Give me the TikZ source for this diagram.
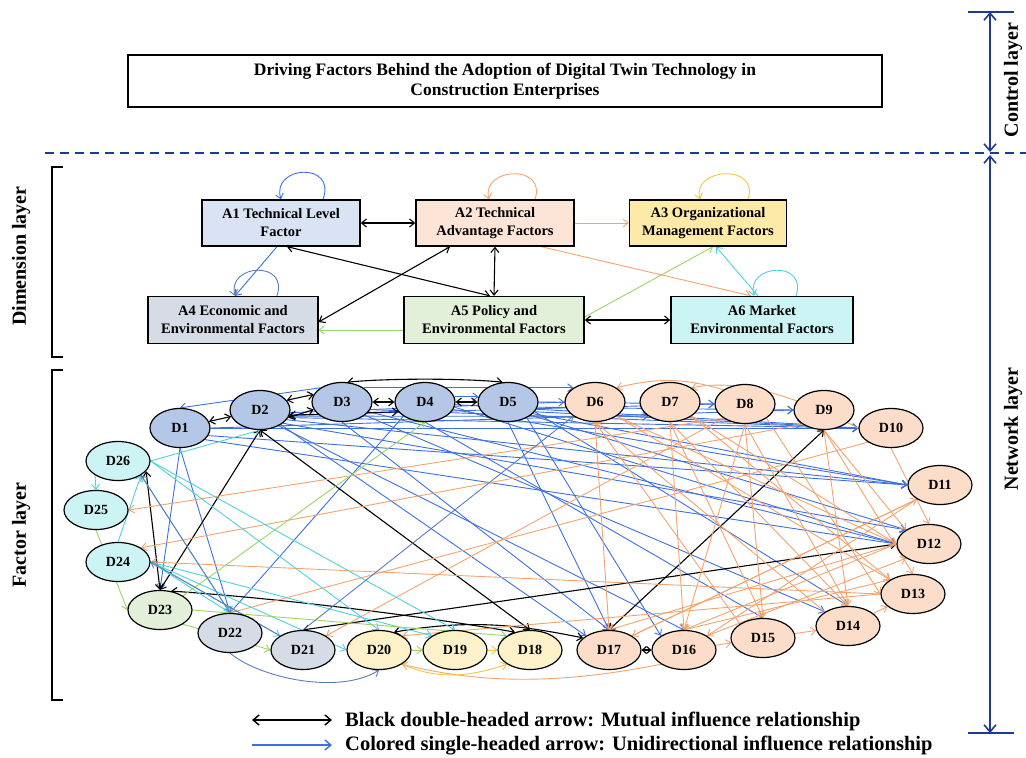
\documentclass[tikz,border=0pt]{standalone}
\usepackage{fontspec}
\setmainfont{Liberation Serif}
\usetikzlibrary{arrows.meta,shapes.geometric,calc}
\pgfdeclarelayer{bg}
\pgfsetlayers{bg,main}
\definecolor{fblue}{HTML}{B4C7E7}
\definecolor{fAa}{HTML}{DAE3F3}
\definecolor{forange}{HTML}{FBDDC9}
\definecolor{fAb}{HTML}{FCE4D6}
\definecolor{fyellow}{HTML}{FDF1C9}
\definecolor{fAc}{HTML}{FEEAA8}
\definecolor{fgrey}{HTML}{D6DCE5}
\definecolor{fgreen}{HTML}{E2F0D9}
\definecolor{fcyan}{HTML}{CCF4F4}
\definecolor{cblue}{HTML}{3C6FE0}
\definecolor{corange}{HTML}{F4A36E}
\definecolor{ccyan}{HTML}{4ED0E0}
\definecolor{cgreen}{HTML}{9CD463}
\definecolor{cgrey}{HTML}{5C7BBF}
\definecolor{cyellow}{HTML}{F5C542}
\definecolor{navy}{HTML}{1F3A8F}
\begin{document}
\begin{tikzpicture}[x=1pt,y=-1pt,>={Straight Barb[length=5pt,width=8pt]},
 dn/.style={ellipse,draw=black,line width=1.2pt,minimum width=62pt,minimum height=39pt,inner sep=0pt,font=\fontsize{14}{16}\selectfont\bfseries},
 ab/.style={draw=black,line width=1.3pt,minimum height=46pt,inner sep=0pt,align=center,font=\fontsize{14.5}{18}\selectfont\bfseries},
 eb/.style={->,draw=cblue,line width=0.9pt},
 eo/.style={->,draw=corange,line width=0.9pt},
 ec/.style={->,draw=ccyan,line width=0.9pt},
 eg/.style={->,draw=cgreen,line width=0.9pt},
 egy/.style={->,draw=cgrey,line width=0.9pt},
 ey/.style={->,draw=cyellow,line width=0.9pt},
 bk/.style={<->,draw=black,line width=1.1pt},
 navyarr/.style={{Straight Barb[length=7pt,width=12pt]}-{Straight Barb[length=7pt,width=12pt]},draw=navy,line width=1.6pt},
 lay/.style={rotate=90,font=\fontsize{20}{24}\selectfont\bfseries},
 leg/.style={anchor=west,inner sep=0pt,font=\fontsize{20.5}{24}\selectfont\bfseries}]
\useasboundingbox (0,0) rectangle (1026,758);

% title
\node[draw=black,line width=1.5pt,minimum width=754pt,minimum height=52pt,align=center,
  font=\fontsize{17.5}{20}\selectfont\bfseries] (T) at (505,81)
  {Driving Factors Behind the Adoption of Digital Twin Technology in\\Construction Enterprises};

% layer marks
\coordinate (dl1) at (45,153); \coordinate (dl2) at (1026,153);
\draw[navy,line width=1.6pt,dash pattern=on 9pt off 6pt] (dl1) -- (dl2);
\coordinate (ct) at (990,12); \coordinate (cb) at (990,152);
\coordinate (nt) at (990,155); \coordinate (nb) at (990,733);
\coordinate (bt1) at (968,12); \coordinate (bt2) at (1014,12);
\coordinate (bb1) at (968,733); \coordinate (bb2) at (1014,733);
\draw[navy,line width=1.6pt] (bt1) -- (bt2);
\draw[navy,line width=1.6pt] (bb1) -- (bb2);
\draw[navyarr] (ct) -- (cb);
\draw[navyarr] (nt) -- (nb);
\node[lay] (Lc) at (1013,80) {Control layer};
\node[lay] (Ln) at (1013,429) {Network layer};

\draw[line width=1.5pt] (63,167) -- (52,167) -- (52,357) -- (63,357);
\draw[line width=1.5pt] (63,370) -- (52,370) -- (52,700) -- (63,700);
\node[lay] (Ld) at (21,256) {Dimension layer};
\node[lay] (Lf) at (21,535) {Factor layer};

% dimension layer
\node[ab,fill=fAa,minimum width=158pt] (A1) at (281,223) {A1 Technical Level\\Factor};
\node[ab,fill=fAb,minimum width=158pt] (A2) at (495,223) {A2 Technical\\Advantage Factors};
\node[ab,fill=fAc,minimum width=157pt] (A3) at (708,223) {A3 Organizational\\Management Factors};
\node[ab,fill=fgrey,minimum width=170pt,minimum height=47pt] (A4) at (233,320) {A4 Economic and\\Environmental Factors};
\node[ab,fill=fgreen,minimum width=180pt,minimum height=47pt] (A5) at (494,320) {A5 Policy and\\Environmental Factors};
\node[ab,fill=fcyan,minimum width=182pt,minimum height=47pt] (A6) at (762,320) {A6 Market\\Environmental Factors};

% factor nodes
\foreach \n/\x/\y in {1/180/428,2/260/410,3/342/402,4/425/402,5/508/402}
  \node[dn,fill=fblue,minimum width=60pt] (D\n) at (\x,\y) {D\n};
\foreach \n/\x/\y in {6/595/402,7/670/402,8/745/404,9/824/410}
  \node[dn,fill=forange,minimum width=60pt] (D\n) at (\x,\y) {D\n};
\foreach \n/\x/\y in {10/891/428,11/940/485,12/929/544,13/913/594,14/848/626,15/763/638,16/684/650,17/609/650}
  \node[dn,fill=forange,minimum width=64pt] (D\n) at (\x,\y) {D\n};
\foreach \n/\x/\y in {18/530/650,19/455/650,20/379/650}
  \node[dn,fill=fyellow,minimum width=64pt] (D\n) at (\x,\y) {D\n};
\foreach \n/\x/\y in {21/303/650,22/230/633}
  \node[dn,fill=fgrey,minimum width=64pt] (D\n) at (\x,\y) {D\n};
\node[dn,fill=fgreen,minimum width=64pt] (D23) at (160,610) {D23};
\foreach \n/\x/\y in {24/118/562,25/96/510,26/118/461}
  \node[dn,fill=fcyan,minimum width=64pt] (D\n) at (\x,\y) {D\n};

\begin{pgfonlayer}{bg}
% dimension edges
\draw[bk] (A1) -- (A2);
\draw[eo] (A2) -- (A3);
\draw[eb] ($(A1.south)+(-4,0)$) -- ($(A4.north)+(2,0)$);
\draw[bk] ($(A1.south)+(6,0)$) -- ($(A5.north)+(-4,0)$);
\draw[bk] ($(A2.south)+(-45,0)$) -- ($(A4.east)+(0,2)$);
\draw[bk] (A2.south) -- (A5.north);
\draw[eo] ($(A2.south)+(46,0)$) -- ($(A6.north)+(-11,0)$);
\draw[eg] ($(A5.west)+(0,10)$) -- ($(A4.east)+(0,10)$);
\draw[eg] ($(A5.east)+(0,-3)$) -- ($(A3.south)+(5,0)$);
\draw[ec] ($(A6.north)+(-4,0)$) -- ($(A3.south)+(8,0)$);
\draw[bk] (A5) -- (A6);
\draw[eb] ($(A1.north)+(42,0)$) .. controls +(14,-38) and +(-10,-34) .. (A1.north);
\draw[eo] ($(A2.north)+(40,0)$) .. controls +(12,-36) and +(-8,-32) .. ($(A2.north)+(-6,0)$);
\draw[ey] ($(A3.north)+(40,0)$) .. controls +(12,-36) and +(-8,-32) .. ($(A3.north)+(-8,0)$);
\draw[egy] ($(A4.north)+(44,0)$) .. controls +(12,-36) and +(-8,-32) .. ($(A4.north)+(2,0)$);
\draw[ec] ($(A6.north)+(34,0)$) .. controls +(12,-36) and +(-8,-32) .. ($(A6.north)+(-8,0)$);

% blue edges
\draw[eb] (D1.east) -- (D9.west);
\draw[eb] (D1.east) -- (D10.west);
\draw[eb] (D1.-15) -- (D11.west);
\draw[eb] (D1.-25) -- (D12.west);
\draw[eb] (D1.south) -- (D22.north);
\draw[eb] (D1.south) -- (D23.north);
\draw[eb] (D2.-5) -- (D6.west);
\draw[eb] (D2.-10) -- (D8.west);
\draw[eb] (D2.-12) -- (D7.south west);
\draw[eb] (D2.-15) -- (D10.west);
\draw[eb] (D2.-20) -- (D11.west);
\draw[eb] (D2.-30) -- (D12.north west);
\draw[eb] (D2.-40) -- (D16.north);
\draw[eb] (D2.-35) -- (D17.north west);
\draw[eb] (D3.north west) -- (D1.north);
\draw[eb] (D3.north east) -- (D6.north west);
\draw[eb] (D3.south) -- (D17.north);
\draw[eb] (D3.-30) -- (D14.north west);
\draw[eb] (D3.-15) -- (D10.west);
\draw[eb] (D3.-20) -- (D12.west);
\draw[eb] (D4.south west) -- (D22.north);
\draw[eb] (D4.south) -- (D15.north);
\draw[eb] (D4.-15) -- (D11.west);
\draw[eb] (D4.-10) -- (D12.west);
\draw[eb] (D4.-5) -- (D9.south west);
\draw[eb] (D4.10) -- (D5.170);
\draw[eb] (D5.south) -- (D17.north);
\draw[eb] (D5.-40) -- (D16.north west);
\draw[eb] (D5.-20) -- (D14.north);
\draw[eb] (D5.east) -- (D8.west);
\draw[eb] (D5.-10) -- (D9.west);
\draw[eb] (D5.-20) -- (D10.west);
\draw[eb] (D5.-25) -- (D11.west);
\draw[eb] (D5.-30) -- (D12.north west);

% black edges
\draw[bk] (D2) -- (D1);
\draw[bk] (D2.20) -- (D3.165);
\draw[bk] (D2.-15) -- (D3.195);
\draw[bk] (D3) -- (D4);
\draw[bk] (D4) -- (D5);
\draw[bk] (D2.-10) -- (D4.200);
\draw[bk] (D3.75) .. controls +(40,-4) and +(-40,-4) .. (D5.105);
\draw[bk] (D2.south) -- (D23.north);
\draw[bk] (D2.south) -- (D18.north);
\draw[bk] (D26.-20) -- (D23.north);
\draw[bk] (D9.south) -- (D17.north);
\draw[bk] (D21.north) -- (D12.west);
\draw[bk] (D23.60) .. controls +(120,8) and +(-80,-14) .. (D18.130);
\draw[bk] (D20.50) .. controls +(80,-14) and +(-60,-12) .. (D17.155);
\draw[bk,{Straight Barb[length=4pt,width=7pt]}-{Straight Barb[length=4pt,width=7pt]}] (D17) -- (D16);

% orange edges
\draw[eo] (D8.south west) -- (D25.east);
\draw[eo] (D9.south west) -- (D24.north east);
\draw[eo] (D13.west) -- (D24.east);
\draw[eo] (D10.south west) -- (D22.north);
\draw[eo] (D8.south west) -- (D21.north east);
\draw[eo] (D6.south) -- (D17.north);
\draw[eo] (D7.south) -- (D16.north);
\draw[eo] (D8.south) -- (D15.north);
\draw[eo] (D7.south) -- (D15.north);
\draw[eo] (D7.south) -- (D14.north);
\draw[eo] (D7.south east) -- (D13.north west);
\draw[eo] (D7.south east) -- (D12.west);
\draw[eo] (D8.south) -- (D14.north);
\draw[eo] (D8.south east) -- (D13.west);
\draw[eo] (D8.south) -- (D16.north);
\draw[eo] (D9.south) -- (D12.north west);
\draw[eo] (D9.south) -- (D13.north);
\draw[eo] (D9.south) -- (D14.north);
\draw[eo] (D10.south) -- (D12.north);
\draw[eo] (D10.west) .. controls +(-60,-30) and +(50,-10) .. (D7.north east);
\draw[eo] (D8.north west) .. controls +(-40,-12) and +(40,-10) .. (D6.north east);
\draw[eo] (D12.west) -- (D16.north);
\draw[eo] (D12.west) -- (D17.north);
\draw[eo] (D11.south west) -- (D17.north east);
\draw[eo] (D11.south west) -- (D16.north east);
\draw[eo] (D13.north west) -- (D16.north);
\draw[eo] (D14.north west) -- (D6.south);
\draw[eo] (D15.north west) -- (D6.south);
\draw[eo] (D6.south east) -- (D12.west);
\draw[eo] (D6.south east) -- (D13.north west);
\draw[eo] (D16) -- (D15);
\draw[eo] (D15) -- (D14);
\draw[eo] (D14) -- (D13);
\draw[eo] (D16.south west) .. controls +(-100,20) and +(80,20) .. (D20.south east);
\draw[eo] (D13.west) -- (D20.north east);
\draw[eo] (D17.north east) -- (D11.south west);
\draw[eo] (D16.north east) -- (D12.south west);

% cyan edges
\draw[ec] (D26.south west) -- (D25.north);
\draw[ec] (D24.north) -- (D26.south east);
\draw[ec] (D26.east) -- (D2.south);
\draw[ec] (D26.east) -- (D20.north);
\draw[ec] (D26.east) -- (D19.north);
\draw[ec] (D26.south east) -- (D22.north);
\draw[ec] (D24.east) -- (D20.west);
\draw[ec] (D24.east) -- (D19.north west);
\draw[ec] (D24.east) -- (D22.north);
\draw[ec] (D24.east) -- (D21.north west);

% green edges
\draw[eg] (D23.north east) -- (D4.south);
\draw[eg] (D25.south) -- (D23.west);
\draw[eg] (D23.east) -- (D18.north west);
\draw[eg] (D23.south east) -- (D21.west);
\draw[eg] (D20) -- (D19);

% grey-blue edges
\draw[egy] (D22.north) -- (D26.south east);
\draw[egy] (D21.north west) -- (D24.east);
\draw[egy] (D21.north) -- (D6.south west);
\draw[egy] (D22.south) .. controls +(30,25) and +(-40,25) .. (D20.south);

% yellow edges
\draw[ey] (D19) -- (D18);
\draw[ey] (D20.south east) .. controls +(40,18) and +(-30,10) .. (D18.south west);
\end{pgfonlayer}

% legend
\coordinate (la1) at (252,720); \coordinate (la2) at (332,720);
\coordinate (lb1) at (252,745); \coordinate (lb2) at (332,745);
\draw[bk,line width=1.4pt,{Straight Barb[length=6pt,width=10pt]}-{Straight Barb[length=6pt,width=10pt]}] (la1) -- (la2);
\draw[draw=cblue,line width=1.4pt,-{Straight Barb[length=6pt,width=10pt]}] (lb1) -- (lb2);
\node[leg] (lt1) at (345,721) {Black double-headed arrow: Mutual influence relationship};
\node[leg] (lt2) at (345,746) {Colored single-headed arrow: Unidirectional influence relationship};
\end{tikzpicture}
\end{document}
